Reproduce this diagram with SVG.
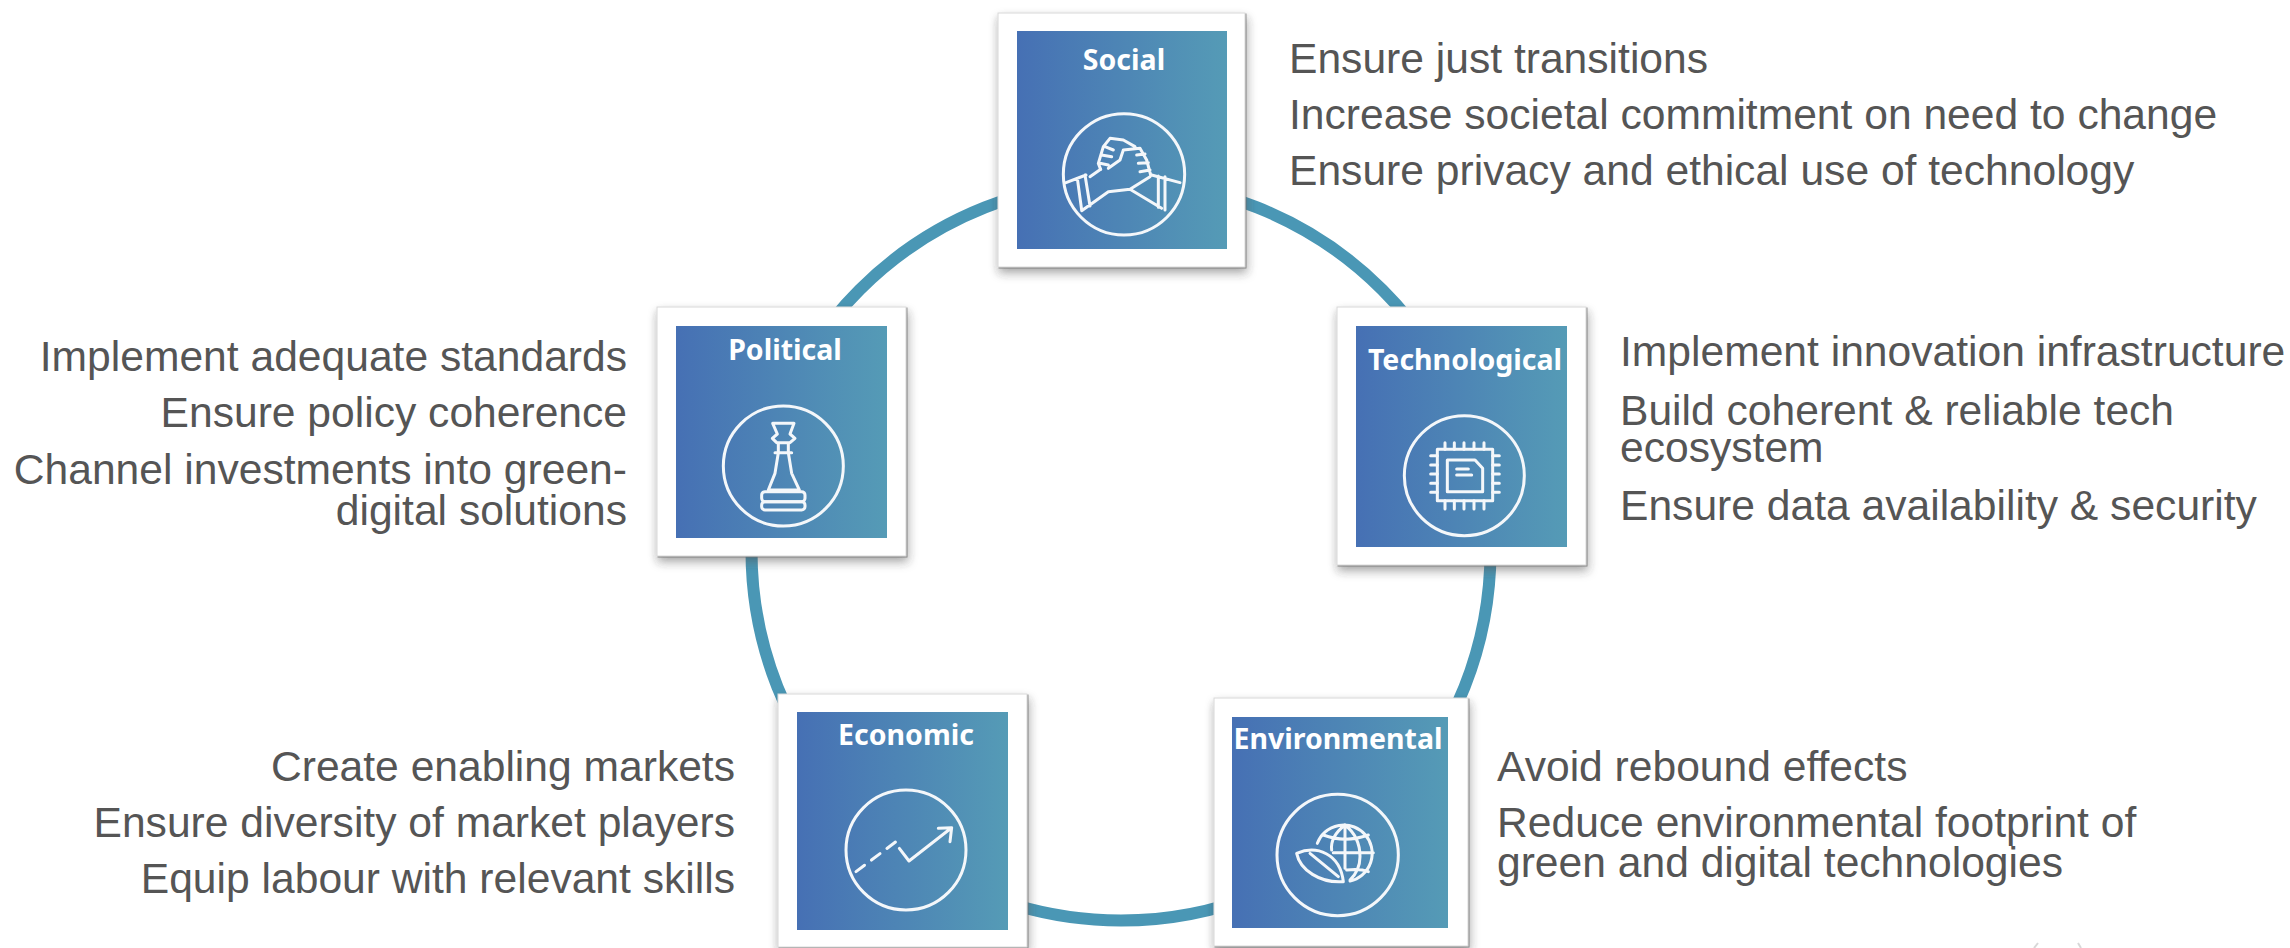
<svg xmlns="http://www.w3.org/2000/svg" width="2290" height="948" viewBox="0 0 2290 948">
<defs>
<linearGradient id="g" x1="0" y1="0" x2="1" y2="0"><stop offset="0" stop-color="#4670b4"/><stop offset="1" stop-color="#559bb6"/></linearGradient>
<filter id="s" x="-10%" y="-10%" width="120%" height="120%"><feDropShadow dx="1" dy="5" stdDeviation="5" flood-color="#000" flood-opacity="0.3"/><feDropShadow dx="1" dy="1" stdDeviation="0.6" flood-color="#777" flood-opacity="0.8"/></filter>
</defs>
<style>
.card{fill:#fff;stroke:#d8d8d8;stroke-width:1;filter:url(#s)}
.panel{fill:url(#g)}
.title{font-family:"Noto Sans",sans-serif;font-weight:700;font-size:28.5px;fill:#fff;text-anchor:middle}
.ic{fill:none;stroke:#f4f7fa;stroke-width:9;stroke-linecap:round;stroke-linejoin:round}
.t{font-family:"Liberation Sans",Arial,sans-serif;font-size:42.6px;fill:#555}
.r{text-anchor:end}
</style>
<rect width="2290" height="948" fill="#fff"/>
<g id="connectors"><circle cx="1121" cy="551" r="369.5" fill="none" stroke="#4a97b5" stroke-width="12"/></g>
<g id="social">
<rect class="card" x="998" y="13" width="247" height="254"/><rect class="panel" x="1017" y="31" width="210" height="218"/>
<text class="title" x="1124" y="70">Social</text>
<g transform="translate(980,0) scale(.33333)" class="ic"><circle cx="432" cy="523" r="182"/>
<path d="M258 548L318 525M292 535L305 630M315 525L330 618M330 530L362 508M305 632L385 575L450 568L510 530M450 568L545 625M535 528V622M555 530V630M515 525L600 548"/>
<path d="M362 508L355 490L370 440L390 415L430 420L465 440M430 450L480 445L500 480L512 525M375 440L400 450M365 465L395 470M360 490L385 495M470 465L495 462M475 490L505 488M480 515L510 510M430 450L420 480L385 505"/></g>
</g>
<g id="technological">
<rect class="card" x="1337" y="307" width="249" height="258"/><rect class="panel" x="1356" y="326" width="211" height="221"/>
<text class="title" x="1465" y="370">Technological</text>
<g transform="translate(1320,290) scale(.33333)" class="ic"><circle cx="433" cy="557" r="180"/>
<path d="M352 478H518V632H352ZM382 510H465L488 535V605H382ZM410 537H445M410 555H455"/>
<path d="M375 458V478M403 458V478M432 458V478M462 458V478M492 458V478M375 632V657M403 632V657M432 632V657M462 632V657M492 632V657M332 497H352M332 525H352M332 552H352M332 580H352M332 607H352M518 497H538M518 525H538M518 552H538M518 580H538M518 607H538"/></g>
</g>
<g id="environmental">
<rect class="card" x="1214" y="698" width="254" height="248"/><rect class="panel" x="1232" y="717" width="216" height="211"/>
<text class="title" x="1338" y="749">Environmental</text>
<g transform="translate(1190,680) scale(.33333)" class="ic"><circle cx="443" cy="525" r="182"/>
<path d="M382 490A85 85 0 1 1 480 603M400 465Q465 490 535 465M430 518H550M470 570Q510 565 535 575M465 435Q420 470 425 510M465 435V565M465 435Q510 470 510 530Q510 570 480 600"/>
<path d="M320 520C380 495 450 520 460 605C390 610 330 570 320 520ZM360 520L445 590"/></g>
</g>
<g id="economic">
<rect class="card" x="778" y="694" width="249" height="253"/><rect class="panel" x="797" y="712" width="211" height="218"/>
<text class="title" x="906" y="745">Economic</text>
<g transform="translate(760,680) scale(.33333)" class="ic"><circle cx="438" cy="510" r="180"/>
<path d="M288 575L412 482" stroke-dasharray="32 26"/><path d="M418 505L447 543L570 447M535 445L575 443L570 485"/></g>
</g>
<g id="political">
<rect class="card" x="657" y="307" width="249" height="249"/><rect class="panel" x="676" y="326" width="211" height="212"/>
<text class="title" x="785" y="360">Political</text>
<g transform="translate(640,290) scale(.33333)" class="ic"><circle cx="430" cy="528" r="180"/>
<path d="M398 400H462L450 432L465 445L450 458H410L397 445L412 432ZM415 458V488H445V458M405 488H455M415 488L405 550L385 600H478L455 550L445 488"/>
<rect x="365" y="605" width="130" height="30" rx="10"/><rect x="365" y="635" width="130" height="25" rx="10"/></g>
</g>
<g id="text-social" class="t"><text x="1289" y="73">Ensure just transitions</text><text x="1289" y="129">Increase societal commitment on need to change</text><text x="1289" y="185">Ensure privacy and ethical use of technology</text></g>
<g id="text-tech" class="t"><text x="1620" y="366">Implement innovation infrastructure</text><text x="1620" y="425">Build coherent &amp; reliable tech</text><text x="1620" y="462">ecosystem</text><text x="1620" y="520">Ensure data availability &amp; security</text></g>
<g id="text-env" class="t"><text x="1497" y="781">Avoid rebound effects</text><text x="1497" y="837">Reduce environmental footprint of</text><text x="1497" y="877">green and digital technologies</text></g>
<g id="text-econ" class="t r"><text x="735" y="781">Create enabling markets</text><text x="735" y="837">Ensure diversity of market players</text><text x="735" y="893">Equip labour with relevant skills</text></g>
<g id="text-pol" class="t r"><text x="627" y="371">Implement adequate standards</text><text x="627" y="427">Ensure policy coherence</text><text x="627" y="484">Channel investments into green-</text><text x="627" y="525">digital solutions</text></g>
<path d="M2038 943L2034 948M2078 943L2081 948" stroke="#d8d8d8" stroke-width="2" fill="none"/>
</svg>
